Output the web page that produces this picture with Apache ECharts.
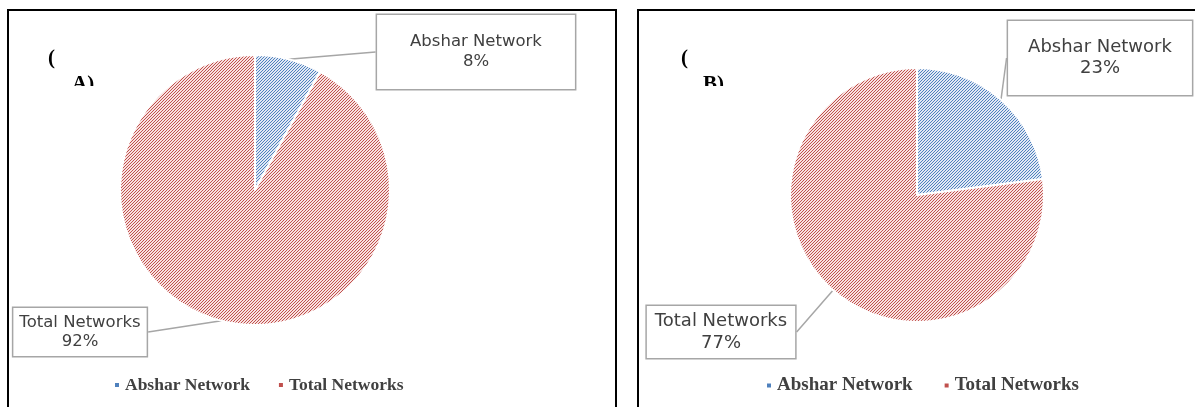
<!DOCTYPE html>
<html>
<head>
<meta charset="utf-8">
<script src="https://cdn.jsdelivr.net/npm/echarts@6/dist/echarts.min.js"></script>
<style>
  html, body { margin: 0; padding: 0; background: #fff; }
  #main { width: 1195px; height: 407px; }
</style>
</head>
<body>
<div id="main"></div>
<script>
// data
const names = ['Abshar Network', 'Total Networks'];
const valuesA = [8, 92];
const valuesB = [23, 77];

const darkColors = ['#4f81bd', '#c0504d'];
const lightColors = ['#e1e9f5', '#f8e2e1'];

// diagonal hatch like the office pattern fill
function hatch(dark, light) {
    const c = document.createElement('canvas');
    c.width = 3; c.height = 3;
    const g = c.getContext('2d');
    g.fillStyle = light;
    g.fillRect(0, 0, 3, 3);
    g.fillStyle = dark;
    for (let i = 0; i < 3; i++) g.fillRect(i, 2 - i, 1, 1);
    return c;
}
const patterns = darkColors.map((d, i) => ({image: hatch(d, lightColors[i]), repeat: 'repeat'}));

// label boxes: center x, top y
const boxA = [[476, 15], [80, 308]];
const padA = [[17, 33], [5, 6]];
const boxB = [[1100, 21], [721, 306]];
const padB = [[16, 20], [4, 8]];

function makeData(values, fontSize, lineHeight, pads) {
    return values.map((v, i) => ({
        name: names[i],
        value: v,
        itemStyle: {color: patterns[i]},
        label: {fontSize: fontSize, lineHeight: lineHeight[i], padding: pads[i]}
    }));
}

function pieSeries(values, center, radius, fontSize, lineHeight, pads, boxes) {
    return {
        type: 'pie',
        center: center,
        radius: radius,
        startAngle: 90,
        clockwise: true,
        avoidLabelOverlap: false,
        itemStyle: {borderColor: '#fff', borderWidth: 2},
        label: {
            show: true,
            position: 'outside',
            formatter: '{b}\n{d}%',
            fontFamily: 'DejaVu Sans',
            color: '#404040',
            backgroundColor: '#fff',
            borderColor: '#a6a6a6',
            borderWidth: 1.5,
            align: 'center'
        },
        labelLine: {show: true, length: 0, length2: 0, lineStyle: {color: '#a6a6a6', width: 1.5}},
        labelLayout: function (p) {
            const b = boxes[p.dataIndex];
            return {x: b[0], y: b[1], align: 'center', verticalAlign: 'top'};
        },
        emphasis: {disabled: true},
        data: makeData(values, fontSize, lineHeight, pads)
    };
}

function legendAt(left, fontSize, gap) {
    return {
        left: left,
        top: 371,
        icon: 'rect',
        itemWidth: 6,
        itemHeight: 6,
        itemGap: gap,
        selectedMode: false,
        textStyle: {fontFamily: 'Liberation Serif', fontWeight: 'bold', fontSize: fontSize, color: '#404040'},
        data: names.map((n, i) => ({name: n, itemStyle: {color: darkColors[i]}}))
    };
}

const chart = echarts.init(document.getElementById('main'));
chart.setOption({
    animation: false,
    legend: [legendAt(108, 17.5, 27), legendAt(760, 19, 30)],
    graphic: [
        {type: 'rect', shape: {x: 8, y: 10, width: 608, height: 420}, style: {fill: null, stroke: '#000', lineWidth: 2}},
        {type: 'rect', shape: {x: 638, y: 10, width: 600, height: 420}, style: {fill: null, stroke: '#000', lineWidth: 2}},
        {type: 'text', x: 48, y: 48, style: {text: '(', font: 'bold 21px "Liberation Serif"', fill: '#000'}},
        {type: 'text', x: 72, y: 74, style: {text: 'A)', font: 'bold 21px "Liberation Serif"', fill: '#000'}},
        {type: 'text', x: 681, y: 48, style: {text: '(', font: 'bold 21px "Liberation Serif"', fill: '#000'}},
        {type: 'text', x: 703, y: 74, style: {text: 'B)', font: 'bold 21px "Liberation Serif"', fill: '#000'}},
        {type: 'rect', shape: {x: 62, y: 86, width: 50, height: 16}, style: {fill: '#fff'}},
        {type: 'rect', shape: {x: 695, y: 86, width: 50, height: 16}, style: {fill: '#fff'}}
    ],
    series: [
        pieSeries(valuesA, [255, 190], 135, 16.5, [20, 19], padA, boxA),
        pieSeries(valuesB, [917, 195], 127, 18, [21, 22], padB, boxB)
    ]
});
</script>
</body>
</html>
